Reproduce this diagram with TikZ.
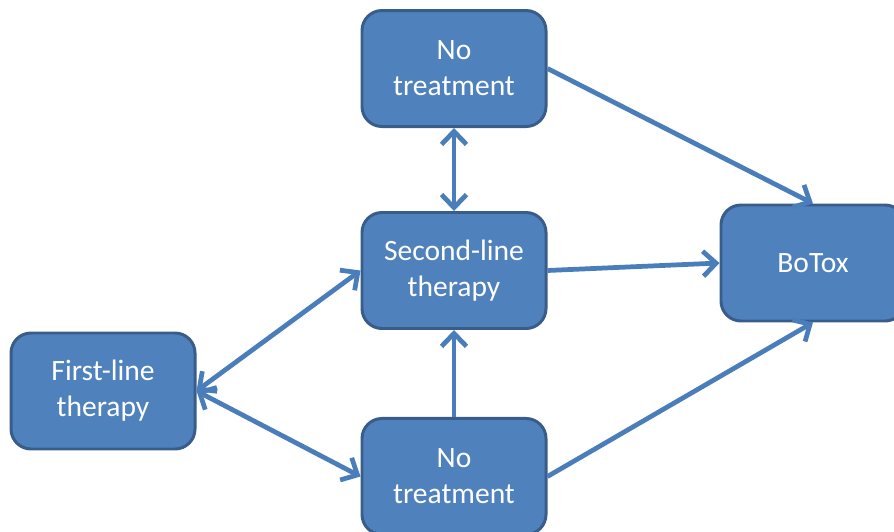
\documentclass[tikz,border=0pt]{standalone}
\usepackage{fontspec}
\setmainfont{Carlito}
\usepackage{xcolor}
\usetikzlibrary{arrows.meta,positioning}
\definecolor{boxblue}{HTML}{4F81BD}
\definecolor{boxedge}{HTML}{385D8A}
\definecolor{linkblue}{HTML}{4A7EBB}

\begin{document}
\begin{tikzpicture}[
  >={Straight Barb[length=2.6mm,width=5mm]},
  state/.style={draw=boxedge,line width=1.7pt,rounded corners=4mm,fill=boxblue,
                minimum width=3.68cm,minimum height=2.32cm,align=center,
                text=white,font=\fontsize{16.8}{20.5}\selectfont},
  link/.style={->,line width=2.7pt,linkblue}
]
\useasboundingbox (-9.08,5.41) rectangle (8.8,-5.21);
\node[state] (second) at (0,0) {Second-line\\therapy};
\node[state,above=1.66cm of second] (notopt) {No\\treatment};
\node[state,below=1.74cm of second] (nobot) {No\\treatment};
\node[state,left=3.28cm of second,yshift=-2.41cm] (first) {First-line\\therapy};
\node[state,right=3.44cm of second,yshift=0.15cm] (botox) {BoTox};

\draw[link,<->] (first.east) -- (second.west);
\draw[link,<->] (first.east) -- (nobot.west);
\draw[link,<->] (notopt) -- (second);
\draw[link] (nobot) -- (second);
\draw[link] (notopt.east) -- (botox.north);
\draw[link] (second.east) -- (botox.west);
\draw[link] (nobot.east) -- (botox.south);
\end{tikzpicture}
\end{document}
